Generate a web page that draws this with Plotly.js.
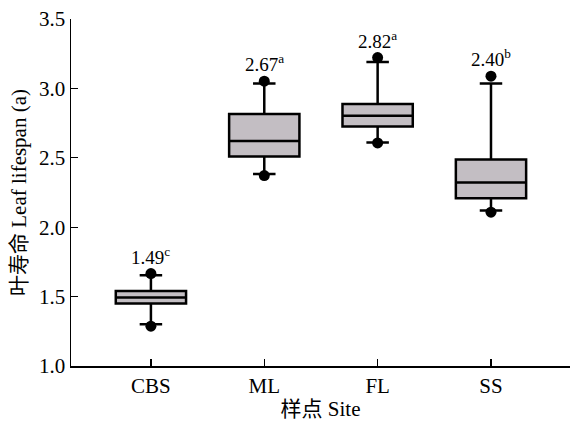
<!DOCTYPE html>
<html>
<head>
<meta charset="utf-8">
<script src="https://cdn.plot.ly/plotly-3.0.1.min.js"></script>
<style>html,body{margin:0;padding:0;background:#fff;}#chart{width:570px;height:426px;}</style>
</head>
<body>
<div id="chart"></div>
<script>
const sites = ["CBS", "ML", "FL", "SS"];
const q1 = [1.45, 2.51, 2.726, 2.209];
const medians = [1.493, 2.621, 2.803, 2.322];
const q3 = [1.541, 2.815, 2.887, 2.487];
const lowerWhisker = [1.30, 2.384, 2.611, 2.121];
const upperWhisker = [1.654, 3.035, 3.191, 3.035];
const topPoints = [1.666, 3.052, 3.222, 3.088];
const bottomPoints = [1.287, 2.372, 2.607, 2.108];
const means = ["1.49", "2.67", "2.82", "2.40"];
const letters = ["c", "a", "a", "b"];

const serif = "Liberation Serif, Times New Roman, Noto Sans CJK SC, serif";

const boxTrace = {
  type: "box",
  x: sites,
  q1: q1,
  median: medians,
  q3: q3,
  lowerfence: lowerWhisker,
  upperfence: upperWhisker,
  width: 0.62,
  whiskerwidth: 0.32,
  fillcolor: "#c3bec3",
  line: {color: "#000", width: 2.5},
  boxpoints: false,
  hoverinfo: "skip",
  showlegend: false
};

const dotTrace = {
  type: "scatter",
  mode: "markers",
  x: sites.concat(sites),
  y: topPoints.concat(bottomPoints),
  marker: {color: "#000", size: 11},
  showlegend: false,
  hoverinfo: "skip"
};

const annotations = sites.map((s, i) => ({
  x: s,
  y: topPoints[i],
  xref: "x",
  yref: "y",
  text: means[i] + "<sup>" + letters[i] + "</sup>",
  showarrow: false,
  yanchor: "middle",
  yshift: 18,
  font: {family: serif, size: 19, color: "#000"}
}));

const layout = {
  width: 570,
  height: 426,
  margin: {l: 71, r: 0, t: 19, b: 60},
  paper_bgcolor: "#fff",
  plot_bgcolor: "#fff",
  font: {family: serif, color: "#000", size: 20},
  xaxis: {
    type: "category",
    range: [-0.705, 3.697],
    showline: true,
    linecolor: "#000",
    linewidth: 1.5,
    ticks: "inside",
    ticklen: 7,
    tickwidth: 1.2,
    tickcolor: "#000",
    showgrid: false,
    zeroline: false,
    tickfont: {family: serif, size: 21, color: "#000"},
    title: {text: "样点 Site", font: {family: serif, size: 21, color: "#000"}, standoff: 4}
  },
  yaxis: {
    range: [1.0, 3.5],
    tickvals: [1.0, 1.5, 2.0, 2.5, 3.0, 3.5],
    ticktext: ["1.0", "1.5", "2.0", "2.5", "3.0", "3.5"],
    showline: true,
    linecolor: "#000",
    linewidth: 1.5,
    ticks: "inside",
    ticklen: 7,
    tickwidth: 1.2,
    tickcolor: "#000",
    showgrid: false,
    zeroline: false,
    tickfont: {family: serif, size: 21, color: "#000"},
    title: {text: "叶寿命 Leaf lifespan (a)", font: {family: serif, size: 21, color: "#000"}, standoff: 6}
  },
  annotations: annotations
};

Plotly.newPlot("chart", [boxTrace, dotTrace], layout, {staticPlot: true, displayModeBar: false});
</script>
</body>
</html>
